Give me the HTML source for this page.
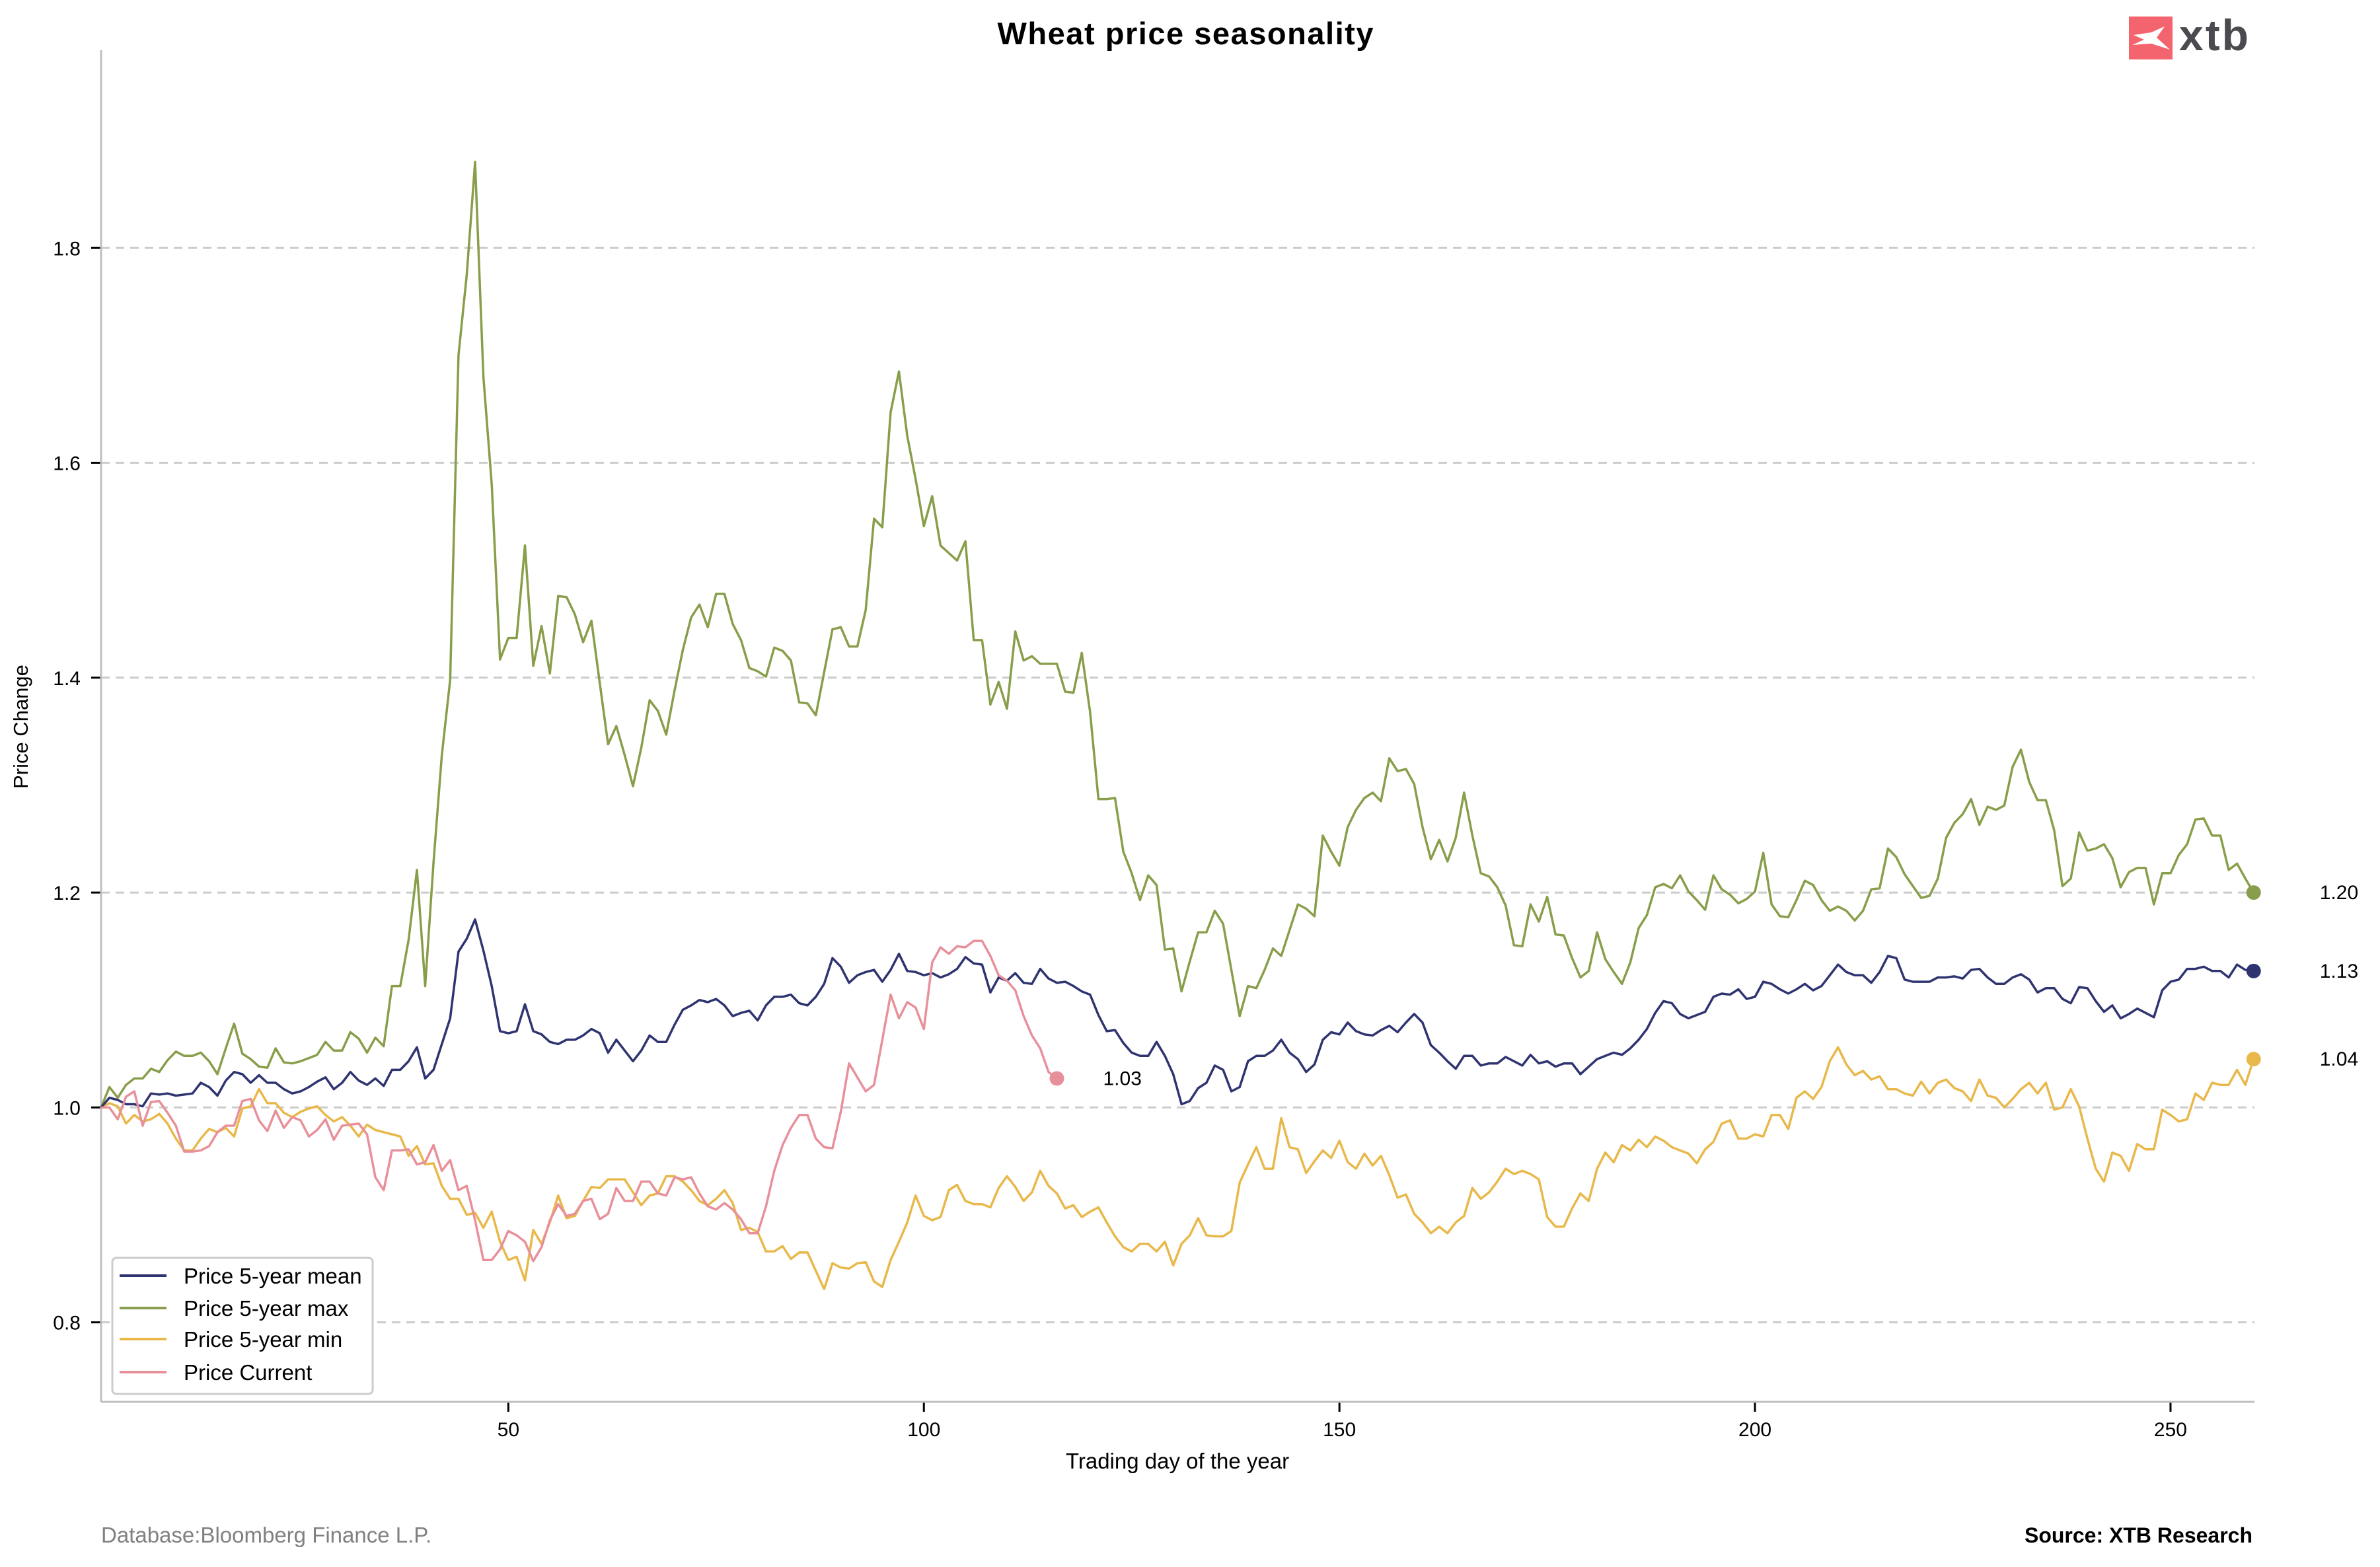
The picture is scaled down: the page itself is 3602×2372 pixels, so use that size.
<!DOCTYPE html>
<html><head><meta charset="utf-8"><title>Wheat price seasonality</title>
<style>
html,body{margin:0;padding:0;background:#fff;}
svg{display:block;font-family:"Liberation Sans",Arial,sans-serif;}
</style></head>
<body>
<svg id="chart" width="3602" height="2372" viewBox="0 0 3602 2372" xmlns="http://www.w3.org/2000/svg">
<rect x="0" y="0" width="3602" height="2372" fill="#fff"/>
<text x="1794" y="67" text-anchor="middle" font-size="47" font-weight="bold" textLength="569" fill="#000">Wheat price seasonality</text>
<g>
<rect x="3222" y="25" width="66" height="65" fill="#f4646e"/>
<path d="M3229 53 L3256 49 L3276 40 L3264 57 L3284 75 L3256 66 L3227 68 L3245 60 Z" fill="#fff"/>
<text x="3298" y="76" font-size="66" font-weight="bold" fill="#4a4a4f" letter-spacing="3">xtb</text>
</g>
<g id="grid"></g>
<g id="axes"></g>
<g id="series"></g>
<g id="labels"></g>
<text x="42" y="1100" transform="rotate(-90 42 1100)" text-anchor="middle" font-size="31" fill="#000">Price Change</text>
<text x="1782" y="2223" text-anchor="middle" font-size="33" fill="#000">Trading day of the year</text>
<text x="153" y="2335" font-size="33" fill="#808080">Database:Bloomberg Finance L.P.</text>
<text x="3409" y="2335" text-anchor="end" font-size="32" font-weight="bold" fill="#000">Source: XTB Research</text>
<g>
<rect x="170" y="1904" width="394" height="206" rx="6" fill="#fff" stroke="#cccccc" stroke-width="3"/>
<line x1="181" y1="1931" x2="252" y2="1931" stroke="#2f3470" stroke-width="4"/>
<text x="278" y="1943" font-size="33" fill="#000">Price 5-year mean</text>
<line x1="181" y1="1980" x2="252" y2="1980" stroke="#889e4a" stroke-width="4"/>
<text x="278" y="1992" font-size="33" fill="#000">Price 5-year max</text>
<line x1="181" y1="2027" x2="252" y2="2027" stroke="#e8b84a" stroke-width="4"/>
<text x="278" y="2039" font-size="33" fill="#000">Price 5-year min</text>
<line x1="181" y1="2077" x2="252" y2="2077" stroke="#e8909a" stroke-width="4"/>
<text x="278" y="2089" font-size="33" fill="#000">Price Current</text>
</g>
</svg>
<script>
const xTicks = [50, 100, 150, 200, 250];
const yTicks = [0.8, 1.0, 1.2, 1.4, 1.6, 1.8];
const yTickLabels = ["0.8", "1.0", "1.2", "1.4", "1.6", "1.8"];
const firstDay = 1;
const meanValues = [
1.00,1.009,1.007,1.003,1.003,1.001,1.013,1.012,1.013,1.011,
1.012,1.013,1.023,1.019,1.011,1.025,1.033,1.031,1.023,1.03,
1.023,1.023,1.017,1.013,1.015,1.019,1.024,1.028,1.017,1.023,
1.033,1.025,1.021,1.027,1.02,1.035,1.035,1.043,1.056,1.027,
1.035,1.059,1.083,1.145,1.157,1.175,1.146,1.113,1.071,1.069,
1.071,1.096,1.071,1.068,1.061,1.059,1.063,1.063,1.067,1.073,
1.069,1.051,1.063,1.053,1.043,1.053,1.067,1.061,1.061,1.077,
1.091,1.095,1.1,1.098,1.101,1.095,1.085,1.088,1.09,1.081,
1.095,1.103,1.103,1.105,1.097,1.095,1.103,1.115,1.139,1.131,
1.116,1.123,1.126,1.128,1.117,1.128,1.143,1.127,1.126,1.123,
1.125,1.121,1.124,1.129,1.14,1.134,1.133,1.107,1.121,1.118,
1.125,1.116,1.115,1.129,1.12,1.116,1.117,1.113,1.108,1.105,
1.086,1.071,1.072,1.06,1.051,1.048,1.048,1.061,1.048,1.031,
1.003,1.006,1.018,1.023,1.039,1.035,1.015,1.019,1.043,1.048,
1.048,1.053,1.063,1.051,1.045,1.033,1.04,1.063,1.07,1.068,
1.079,1.071,1.068,1.067,1.072,1.076,1.07,1.079,1.087,1.079,
1.058,1.051,1.043,1.036,1.048,1.048,1.039,1.041,1.041,1.047,
1.043,1.039,1.049,1.041,1.043,1.038,1.041,1.041,1.031,1.038,
1.045,1.048,1.051,1.049,1.055,1.063,1.073,1.088,1.099,1.097,
1.087,1.083,1.086,1.089,1.103,1.106,1.105,1.11,1.101,1.103,
1.117,1.115,1.11,1.106,1.11,1.115,1.109,1.113,1.123,1.133,
1.126,1.123,1.123,1.116,1.126,1.141,1.139,1.119,1.117,1.117,
1.117,1.121,1.121,1.122,1.12,1.128,1.129,1.121,1.115,1.115,
1.121,1.124,1.119,1.107,1.111,1.111,1.101,1.097,1.112,1.111,
1.099,1.089,1.095,1.083,1.087,1.092,1.088,1.084,1.109,1.117,
1.119,1.129,1.129,1.131,1.127,1.127,1.121,1.133,1.128,1.127];
const maxValues = [
1.0,1.019,1.009,1.021,1.027,1.027,1.036,1.033,1.044,1.052,
1.048,1.048,1.051,1.043,1.031,1.055,1.078,1.05,1.045,1.038,
1.037,1.055,1.042,1.041,1.043,1.046,1.049,1.061,1.053,1.053,
1.07,1.064,1.051,1.065,1.057,1.113,1.113,1.156,1.221,1.113,
1.228,1.328,1.398,1.70,1.775,1.88,1.68,1.58,1.417,1.437,
1.437,1.523,1.411,1.448,1.404,1.476,1.475,1.459,1.433,1.453,
1.395,1.338,1.355,1.328,1.299,1.335,1.379,1.369,1.347,1.388,
1.426,1.456,1.468,1.447,1.478,1.478,1.45,1.435,1.409,1.406,
1.401,1.428,1.425,1.416,1.377,1.376,1.365,1.405,1.445,1.447,
1.429,1.429,1.463,1.548,1.54,1.647,1.685,1.625,1.585,1.541,
1.569,1.523,1.516,1.509,1.527,1.435,1.435,1.375,1.396,1.371,
1.443,1.416,1.42,1.413,1.413,1.413,1.387,1.386,1.423,1.368,
1.287,1.287,1.288,1.238,1.218,1.193,1.216,1.207,1.147,1.148,
1.108,1.136,1.163,1.163,1.183,1.171,1.128,1.085,1.113,1.111,
1.128,1.148,1.141,1.165,1.189,1.185,1.178,1.253,1.238,1.225,
1.261,1.277,1.288,1.293,1.285,1.325,1.313,1.315,1.301,1.261,
1.231,1.249,1.229,1.251,1.293,1.253,1.218,1.215,1.205,1.188,
1.151,1.15,1.189,1.173,1.196,1.161,1.16,1.139,1.121,1.127,
1.163,1.138,1.126,1.115,1.135,1.167,1.179,1.205,1.208,1.204,
1.216,1.201,1.193,1.184,1.216,1.203,1.198,1.19,1.194,1.201,
1.237,1.189,1.178,1.177,1.193,1.211,1.207,1.193,1.183,1.187,
1.183,1.174,1.183,1.203,1.204,1.241,1.233,1.217,1.206,1.195,
1.197,1.213,1.251,1.265,1.273,1.287,1.263,1.28,1.277,1.281,
1.317,1.333,1.303,1.286,1.286,1.258,1.206,1.213,1.256,1.239,
1.241,1.245,1.232,1.205,1.219,1.223,1.223,1.189,1.218,1.218,
1.235,1.245,1.268,1.269,1.253,1.253,1.221,1.227,1.213,1.2];
const minValues = [
1.0,1.004,1.001,0.985,0.993,0.987,0.989,0.994,0.985,0.971,
0.96,0.96,0.971,0.98,0.977,0.981,0.973,0.999,1.001,1.017,
1.004,1.004,0.995,0.991,0.996,0.999,1.001,0.993,0.987,0.991,
0.983,0.973,0.984,0.979,0.977,0.975,0.973,0.955,0.964,0.947,
0.948,0.927,0.915,0.915,0.9,0.902,0.888,0.903,0.875,0.858,
0.861,0.839,0.886,0.873,0.893,0.918,0.897,0.899,0.913,0.926,
0.925,0.933,0.933,0.933,0.921,0.909,0.918,0.92,0.936,0.936,
0.931,0.923,0.913,0.909,0.915,0.923,0.911,0.886,0.888,0.884,
0.866,0.866,0.871,0.859,0.865,0.865,0.848,0.831,0.855,0.851,
0.85,0.855,0.856,0.838,0.833,0.858,0.875,0.893,0.918,0.899,
0.895,0.898,0.923,0.928,0.913,0.91,0.91,0.907,0.925,0.936,
0.926,0.913,0.921,0.941,0.927,0.92,0.906,0.909,0.898,0.903,
0.907,0.893,0.88,0.87,0.866,0.873,0.873,0.866,0.875,0.853,
0.873,0.881,0.897,0.881,0.88,0.88,0.885,0.93,0.947,0.963,
0.943,0.943,0.99,0.963,0.961,0.939,0.95,0.96,0.953,0.969,
0.949,0.943,0.957,0.946,0.955,0.937,0.916,0.919,0.901,0.893,
0.883,0.889,0.883,0.893,0.899,0.925,0.915,0.921,0.931,0.943,
0.938,0.941,0.938,0.933,0.898,0.889,0.889,0.906,0.92,0.913,
0.943,0.958,0.949,0.965,0.96,0.97,0.963,0.973,0.969,0.963,
0.96,0.957,0.948,0.961,0.968,0.985,0.988,0.971,0.971,0.975,
0.973,0.993,0.993,0.98,1.009,1.015,1.008,1.019,1.043,1.056,
1.04,1.03,1.034,1.026,1.029,1.017,1.017,1.013,1.011,1.024,
1.013,1.023,1.026,1.018,1.015,1.006,1.026,1.011,1.009,1.0,
1.008,1.017,1.023,1.013,1.023,0.998,1.0,1.017,1.001,0.971,
0.943,0.931,0.958,0.955,0.941,0.966,0.961,0.961,0.998,0.993,
0.987,0.989,1.013,1.007,1.023,1.021,1.021,1.035,1.021,1.045];
const currentValues = [
1.0,1.0,0.989,1.01,1.015,0.983,1.005,1.006,0.995,0.983,
0.959,0.959,0.96,0.964,0.977,0.983,0.983,1.006,1.008,0.988,
0.978,0.997,0.981,0.991,0.988,0.973,0.979,0.989,0.97,0.983,
0.984,0.985,0.975,0.935,0.923,0.96,0.96,0.961,0.947,0.949,
0.965,0.941,0.951,0.923,0.927,0.895,0.858,0.858,0.868,0.885,
0.881,0.875,0.857,0.87,0.895,0.91,0.899,0.901,0.913,0.915,
0.896,0.901,0.925,0.913,0.913,0.931,0.931,0.92,0.918,0.935,
0.933,0.935,0.92,0.908,0.905,0.911,0.905,0.896,0.883,0.883,
0.908,0.941,0.965,0.981,0.993,0.993,0.971,0.963,0.962,0.996,
1.041,1.028,1.015,1.021,1.063,1.105,1.083,1.098,1.093,1.073,
1.135,1.149,1.143,1.15,1.149,1.155,1.155,1.141,1.123,1.118,
1.109,1.085,1.067,1.055,1.033,1.027];

const NS = "http://www.w3.org/2000/svg";
const PL = 153, PR = 3412, PT = 76, PB = 2122;
const XMIN = 1, XMAX = 260.1, YMIN = 0.726, YMAX = 1.984;
function xs(d){ return PL + (d - XMIN) / (XMAX - XMIN) * (PR - PL); }
function ys(v){ return PB - (v - YMIN) / (YMAX - YMIN) * (PB - PT); }
function mk(tag, attrs, parent){
  const el = document.createElementNS(NS, tag);
  for (const k in attrs) el.setAttribute(k, attrs[k]);
  parent.appendChild(el);
  return el;
}
const grid = document.getElementById('grid');
const axes = document.getElementById('axes');
const series = document.getElementById('series');
const labels = document.getElementById('labels');

yTicks.forEach((v, i) => {
  const y = ys(v);
  const g = mk('line', {x1: PL, x2: PR, y1: y, y2: y, stroke: '#cccccc', 'stroke-width': 3, 'stroke-dasharray': '13 9'}, grid);
  
  
  const t = mk('line', {x1: PL - 15, x2: PL, y1: y, y2: y, stroke: '#000', 'stroke-width': 3}, axes);
  
  
  const lb = mk('text', {x: 122, y: y + 11, 'text-anchor': 'end', 'font-size': 30, fill: '#000'}, axes);
  lb.textContent = yTickLabels[i];
  
  
});
xTicks.forEach(d => {
  const x = xs(d);
  const t = mk('line', {x1: x, x2: x, y1: PB, y2: PB + 15, stroke: '#000', 'stroke-width': 3}, axes);
  
  
  const lb = mk('text', {x: x, y: PB + 52, 'text-anchor': 'middle', 'font-size': 30, fill: '#000'}, axes);
  lb.textContent = String(d);
  
  
});
const sl = mk('line', {x1: PL, x2: PL, y1: PT, y2: PB, stroke: '#bfbfbf', 'stroke-width': 3}, axes);


const sb = mk('line', {x1: PL, x2: PR, y1: PB, y2: PB, stroke: '#bfbfbf', 'stroke-width': 3}, axes);



function drawSeries(vals, color, name, labelOffset){
  let d = '';
  vals.forEach((v, i) => { d += (i ? 'L' : 'M') + xs(firstDay + i).toFixed(1) + ' ' + ys(v).toFixed(1); });
  const p = mk('path', {d: d, fill: 'none', stroke: color, 'stroke-width': 3.5, 'stroke-linejoin': 'round'}, series);
  
  
  const last = vals.length - 1;
  const cx = xs(firstDay + last), cy = ys(vals[last]);
  const c = mk('circle', {cx: cx, cy: cy, r: 11, fill: color}, series);
  
  
  const t = mk('text', {x: cx + labelOffset, y: cy + 10, 'font-size': 30, fill: '#000'}, labels);
  t.textContent = vals[last].toFixed(2);
  
  
}
drawSeries(maxValues, '#889e4a', 'max', 100);
drawSeries(minValues, '#e8b84a', 'min', 100);
drawSeries(meanValues, '#2f3470', 'mean', 100);
drawSeries(currentValues, '#e8909a', 'current', 70);
</script>
</body></html>
